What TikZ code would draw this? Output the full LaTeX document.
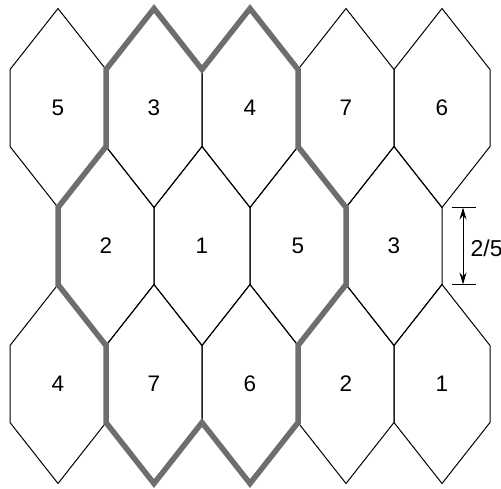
\documentclass[tikz,border=0pt]{standalone}
\usepackage{fontspec}
\setmainfont{Liberation Sans}
\usetikzlibrary{arrows.meta}
\definecolor{pathgray}{RGB}{110,110,110}
\newcommand{\hexcell}[4]{%
  \coordinate (#1-t)  at (#2,#3-99.5);
  \coordinate (#1-ur) at (#2+48,#3-38.5);
  \coordinate (#1-lr) at (#2+48,#3+38.5);
  \coordinate (#1-b)  at (#2,#3+99.5);
  \coordinate (#1-ll) at (#2-48,#3+38.5);
  \coordinate (#1-ul) at (#2-48,#3-38.5);
  \draw[hexline] (#1-t) -- (#1-ur) -- (#1-lr) -- (#1-b) -- (#1-ll) -- (#1-ul) -- cycle;
  \node[hexlabel] (#1) at (#2,#3) {#4};
}
\begin{document}
\begin{tikzpicture}[x=1pt,y=-1pt,
  hexline/.style={draw=black,line width=1pt,line join=miter},
  hexlabel/.style={font=\fontsize{22.5}{26}\selectfont,inner sep=0pt},
  dimlabelstyle/.style={font=\fontsize{23}{26}\selectfont,inner sep=0pt,anchor=west},
  domainline/.style={draw=pathgray,line width=5.5pt,line join=miter},
  dimline/.style={draw=black,line width=1pt},
  dimarrow/.style={draw=black,line width=1pt,{Stealth[length=12pt,width=7pt]}-{Stealth[length=12pt,width=7pt]}}]
\useasboundingbox (0,0) rectangle (501,488);
% top row
\hexcell{a1}{58}{108}{5}
\hexcell{a2}{154}{108}{3}
\hexcell{a3}{250}{108}{4}
\hexcell{a4}{346}{108}{7}
\hexcell{a5}{442}{108}{6}
% middle row
\hexcell{b1}{106}{246}{2}
\hexcell{b2}{202}{246}{1}
\hexcell{b3}{298}{246}{5}
\hexcell{b4}{394}{246}{3}
% bottom row
\hexcell{c1}{58}{384}{4}
\hexcell{c2}{154}{384}{7}
\hexcell{c3}{250}{384}{6}
\hexcell{c4}{346}{384}{2}
\hexcell{c5}{442}{384}{1}
% fundamental domain outline
\draw[domainline] (a2-ul) -- (a2-t) -- (a2-ur) -- (a3-t) -- (a3-ur) -- (a3-lr)
  -- (b3-ur) -- (b3-lr) -- (c4-ul) -- (c4-ll) -- (c3-b) -- (c3-ll)
  -- (c2-b) -- (c2-ll) -- (c2-ul) -- (b1-ll) -- (b1-ul) -- (b1-t) -- cycle;
% dimension
\coordinate (dt1) at (452,207.5);
\coordinate (dt2) at (476,207.5);
\coordinate (db1) at (452,284.5);
\coordinate (db2) at (476,284.5);
\coordinate (dtop) at (463,207.5);
\coordinate (dbot) at (463,284.5);
\draw[dimline] (dt1) -- (dt2);
\draw[dimline] (db1) -- (db2);
\draw[dimarrow] (dtop) -- (dbot);
\node[dimlabelstyle] (dimlabel) at (470.5,248) {2/5};
\end{tikzpicture}
\end{document}
